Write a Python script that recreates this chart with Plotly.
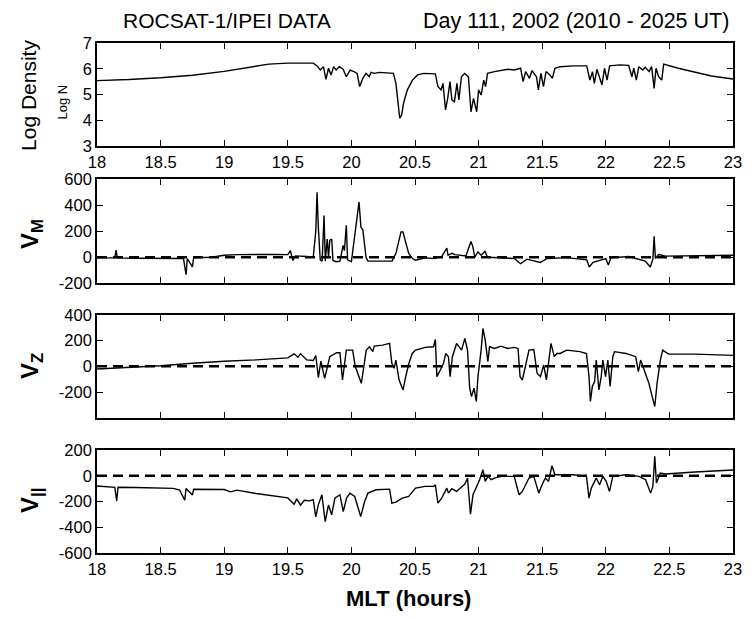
import plotly.graph_objects as go

# ---------------- data ----------------
mlt_n = [18.0, 18.25, 18.5, 18.75, 19.0, 19.2, 19.35, 19.5, 19.7,
         19.73, 19.755, 19.78, 19.80, 19.82, 19.84, 19.86, 19.88, 19.905, 19.935, 19.96, 19.99,
         20.02, 20.045, 20.065, 20.09, 20.115, 20.14, 20.155, 20.18, 20.22, 20.27, 20.33, 20.35,
         20.37, 20.38, 20.395, 20.41, 20.44, 20.48, 20.52, 20.57, 20.66, 20.68, 20.705, 20.72,
         20.74, 20.757, 20.775, 20.79, 20.81, 20.83, 20.845, 20.865, 20.89, 20.92, 20.94, 20.96,
         20.985, 21.0, 21.02, 21.04, 21.055, 21.07, 21.125, 21.175, 21.23, 21.28, 21.33, 21.35,
         21.37, 21.40, 21.42, 21.455, 21.47, 21.49, 21.51, 21.53, 21.56, 21.58, 21.60, 21.64,
         21.745, 21.85, 21.875, 21.895, 21.91, 21.93, 21.95, 21.97, 21.99, 22.01, 22.03, 22.11,
         22.18, 22.205, 22.22, 22.24, 22.26, 22.29, 22.31, 22.34, 22.36, 22.38, 22.395, 22.415,
         22.44, 22.455, 22.57, 22.70, 22.83, 23.0]
log_n = [5.54, 5.58, 5.65, 5.75, 5.90, 6.07, 6.18, 6.22, 6.22,
         6.11, 5.95, 6.08, 5.59, 6.02, 5.76, 6.08, 5.95, 6.08, 5.98, 5.69, 5.95,
         5.89, 5.82, 5.31, 5.63, 5.82, 5.69, 5.86, 5.82, 5.86, 5.85, 5.82, 5.43,
         4.53, 4.08, 4.20, 4.66, 5.18, 5.56, 5.76, 5.82, 5.80, 5.31, 5.18, 5.43,
         4.40, 4.85, 5.50, 4.79, 4.72, 5.43, 4.79, 5.69, 5.82, 5.69, 4.33, 4.85,
         4.33, 5.18, 4.98, 5.56, 5.31, 5.82, 5.89, 5.93, 5.98, 5.95, 6.02, 5.50,
         5.89, 5.63, 5.93, 5.69, 5.18, 5.82, 5.31, 5.89, 5.76, 5.63, 6.02, 6.08,
         6.11, 6.11, 5.56, 5.89, 5.43, 5.98, 5.69, 5.37, 6.02, 5.56, 6.11, 6.15,
         6.13, 5.69, 6.02, 5.56, 6.08, 5.95, 6.06, 5.89, 6.08, 5.24, 6.02, 5.69,
         5.56, 6.18, 6.02, 5.86, 5.72, 5.60]

mlt_m = [18.0, 18.1, 18.14, 18.15, 18.16, 18.3, 18.5, 18.68, 18.70, 18.71, 18.75, 18.76,
         18.9, 19.0, 19.1, 19.2, 19.3, 19.4, 19.5, 19.52, 19.54, 19.56, 19.65, 19.70,
         19.72, 19.73, 19.74, 19.755, 19.77, 19.785, 19.795, 19.81, 19.82, 19.83, 19.845,
         19.855, 19.88, 19.91, 19.935, 19.945, 19.96, 19.97, 20.0, 20.04, 20.06, 20.075,
         20.09, 20.115, 20.13, 20.2, 20.32, 20.35, 20.37, 20.39, 20.405, 20.43, 20.45,
         20.48, 20.505, 20.58, 20.65, 20.71, 20.75, 20.76, 20.79, 20.815, 20.9, 20.94,
         20.955, 20.97, 20.995, 21.02, 21.05, 21.07, 21.2, 21.28, 21.33, 21.38, 21.485,
         21.54, 21.69, 21.85, 21.87, 21.90, 22.0, 22.02, 22.04, 22.18, 22.31, 22.35,
         22.37, 22.38, 22.39, 22.415, 22.47, 23.0]
v_m = [-5, -3, -5, 55, -5, -8, -10, -10, -135, -10, -75, -5,
       0, 15, 20, 22, 25, 22, 20, 50, -25, 10, 5, 0,
       200, 500, 230, -20, -30, 320, -30, 140, 0, 130, 140,
       -25, -35, -30, 90, 50, 245, -20, -35, 300, 425, 230,
       210, 0, -30, -30, -30, 30, 120, 195, 195, 90, 30,
       -10, -23, -5, -10, 5, 70, 15, 30, 20, 10, 120,
       80, 0, 40, 15, 45, 0, -5, -10, -50, -15, -40,
       -10, -3, -20, -75, -40, -10, -60, -5, 5, -30, -75,
       -15, 160, -10, 20, 8, 15]

mlt_z = [18.0, 18.3, 18.5, 18.75, 19.0, 19.25, 19.5, 19.55, 19.58, 19.60, 19.65, 19.7,
         19.72, 19.74, 19.76, 19.79, 19.83, 19.884, 19.91, 19.93, 19.96, 20.01, 20.03,
         20.078, 20.117, 20.143, 20.168, 20.18, 20.246, 20.30, 20.318, 20.336, 20.35,
         20.375, 20.406, 20.427, 20.452, 20.478, 20.504, 20.58, 20.646, 20.66, 20.672,
         20.698, 20.724, 20.742, 20.763, 20.776, 20.794, 20.827, 20.866, 20.892, 20.913,
         20.93, 20.944, 20.964, 20.982, 20.995, 21.02, 21.034, 21.052, 21.073, 21.086,
         21.124, 21.176, 21.228, 21.28, 21.31, 21.326, 21.344, 21.37, 21.396, 21.434,
         21.46, 21.486, 21.512, 21.533, 21.55, 21.569, 21.595, 21.615, 21.64, 21.693,
         21.796, 21.848, 21.868, 21.879, 21.894, 21.912, 21.925, 21.946, 21.964, 21.977,
         21.998, 22.016, 22.034, 22.055, 22.068, 22.158, 22.235, 22.256, 22.274, 22.313,
         22.339, 22.365, 22.385, 22.403, 22.429, 22.447, 22.494, 22.70, 23.0]
v_z = [-21, -8, 5, 24, 40, 50, 66, 97, 70, 97, 50, 45,
       84, -87, 40, -93, 75, 106, 106, -106, 126, 126, 0,
       -132, 126, 152, 114, 157, 165, 178, 23, -15, 49,
       -106, -183, -80, 23, 100, 126, 147, 152, 209, -80,
       -30, 23, 100, 75, -80, 75, 178, 126, 217, 126,
       -170, -235, -170, -273, -80, 126, 294, 204, 36, 152,
       139, 157, 139, 147, 139, -80, -106, 0, 126, 131,
       -54, -80, 10, -106, 49, 178, 75, 100, 100, 126,
       114, 100, -80, -273, -157, -118, 49, -183, -80, 49,
       -80, 49, -157, 75, 114, 100, 75, -41, 49, -54,
       -132, -235, -312, -132, 49, 126, 95, 95, 85]

mlt_p = [18.0, 18.1, 18.14, 18.155, 18.165, 18.3, 18.5, 18.6, 18.65, 18.69, 18.70, 18.75,
         18.76, 19.0, 19.05, 19.1, 19.25, 19.5, 19.55, 19.57, 19.6, 19.63, 19.67, 19.70,
         19.72, 19.74, 19.768, 19.794, 19.82, 19.845, 19.87, 19.91, 19.936, 19.962, 19.988,
         20.026, 20.073, 20.104, 20.13, 20.168, 20.194, 20.30, 20.318, 20.35, 20.40, 20.45,
         20.504, 20.58, 20.646, 20.66, 20.68, 20.71, 20.75, 20.763, 20.789, 20.827, 20.853,
         20.892, 20.913, 20.923, 20.936, 20.956, 20.982, 21.008, 21.034, 21.052, 21.073,
         21.099, 21.124, 21.176, 21.28, 21.318, 21.344, 21.37, 21.396, 21.434, 21.473,
         21.499, 21.525, 21.55, 21.577, 21.60, 21.745, 21.848, 21.868, 21.886, 21.925,
         21.951, 21.977, 22.003, 22.029, 22.055, 22.158, 22.261, 22.313, 22.352, 22.37,
         22.385, 22.398, 22.429, 22.468, 22.70, 23.0]
v_par = [-80, -86, -90, -195, -90, -91, -94, -98, -112, -190, -100, -150,
         -105, -107, -125, -112, -138, -172, -221, -180, -229, -190, -195, -185,
         -320, -226, -148, -356, -226, -304, -174, -148, -278, -174, -135,
         -161, -317, -200, -135, -122, -109, -104, -213, -205, -174, -161,
         -96, -83, -83, -70, -213, -174, -96, -135, -101, -122, -96,
         -65, -18, -122, -299, -148, -96, -31, 47, -44, -5,
         -31, -18, -5, -5, -148, -122, -70, -18, -5, -135,
         -70, -18, -44, 78, 8, 8, -5, -174, -96, -18,
         -70, -5, -44, -122, -5, 8, -5, -31, -135, -83,
         151, -57, 21, 13, 29, 44]

x_ticks = [18, 18.5, 19, 19.5, 20, 20.5, 21, 21.5, 22, 22.5, 23]
x_tick_text = ["18", "18.5", "19", "19.5", "20", "20.5", "21", "21.5", "22", "22.5", "23"]
y1_ticks = [3, 4, 5, 6, 7]
y1_text = ["3", "4", "5", "6", "7"]
y2_ticks = [-200, 0, 200, 400, 600]
y2_text = ["-200", "0", "200", "400", "600"]
y3_ticks = [-200, 0, 200, 400]
y3_text = ["-200", "0", "200", "400"]
y4_ticks = [-600, -400, -200, 0, 200]
y4_text = ["-600", "-400", "-200", "0", "200"]

title_left = "ROCSAT-1/IPEI DATA"
title_right = "Day 111, 2002 (2010 - 2025 UT)"

# ---------------- figure ----------------
FONT = "Liberation Sans, Arial, sans-serif"
fig = go.Figure()

line = dict(color="black", width=1.4)
dash_line = dict(color="black", width=2.5, dash="10px,6px")

fig.add_trace(go.Scatter(x=mlt_n, y=log_n, mode="lines", line=line, xaxis="x", yaxis="y"))
for xa, ya, xs, ys in [("x2", "y2", mlt_m, v_m), ("x3", "y3", mlt_z, v_z), ("x4", "y4", mlt_p, v_par)]:
    fig.add_trace(go.Scatter(x=[18, 23], y=[0, 0], mode="lines", line=dash_line, xaxis=xa, yaxis=ya))
    fig.add_trace(go.Scatter(x=xs, y=ys, mode="lines", line=line, xaxis=xa, yaxis=ya))

domains = {1: [0.798, 1.0], 2: [0.529, 0.733], 3: [0.265, 0.467], 4: [0.0, 0.202]}
common_x = dict(range=[18, 23], tickvals=x_ticks, ticktext=x_tick_text, ticks="inside",
                ticklen=6, tickwidth=1, tickcolor="black", showline=True, linecolor="black",
                linewidth=1.6, mirror="ticks", showgrid=False, zeroline=False,
                tickfont=dict(family=FONT, size=16.5, color="black"))
common_y = dict(ticks="inside", ticklen=6, tickwidth=1, tickcolor="black", showline=True,
                linecolor="black", linewidth=1.6, mirror="ticks", showgrid=False,
                zeroline=False, tickfont=dict(family=FONT, size=16.5, color="black"))

layout = dict(
    width=754, height=619, paper_bgcolor="white", plot_bgcolor="white",
    margin=dict(l=97, r=12, t=43, b=66), showlegend=False,
    font=dict(family=FONT, color="black"),
)
for i in range(1, 5):
    sx = "" if i == 1 else str(i)
    xa = dict(common_x, domain=[0, 1], anchor="y" + sx)
    if i in (2, 3):
        xa["showticklabels"] = False
    layout["xaxis" + sx] = xa
layout["yaxis"] = dict(common_y, domain=domains[1], anchor="x", range=[3, 7], tickvals=y1_ticks,
                       ticktext=y1_text)
layout["yaxis2"] = dict(common_y, domain=domains[2], anchor="x2", range=[-200, 600], tickvals=y2_ticks,
                        ticktext=y2_text)
layout["yaxis3"] = dict(common_y, domain=domains[3], anchor="x3", range=[-400, 400], tickvals=y3_ticks,
                        ticktext=y3_text)
layout["yaxis4"] = dict(common_y, domain=domains[4], anchor="x4", range=[-600, 200], tickvals=y4_ticks,
                        ticktext=y4_text)
fig.update_layout(**layout)

ann = []
ann.append(dict(text=title_left, x=229, y=21, font=dict(size=21)))
ann.append(dict(text=title_right, x=583, y=21, font=dict(size=21.5)))
ann.append(dict(text="Log Density", x=28, y=95, textangle=-90, font=dict(size=21)))
ann.append(dict(text="Log N", x=62, y=102, textangle=-90, font=dict(size=13)))
ann.append(dict(text="<b>V<sub>M</sub></b>", x=30, y=234, textangle=-90, font=dict(size=24)))
ann.append(dict(text="<b>V<sub>Z</sub></b>", x=30, y=366, textangle=-90, font=dict(size=24)))
ann.append(dict(text="<b>V<sub>||</sub></b>", x=30, y=500, textangle=-90, font=dict(size=24)))
ann.append(dict(text="<b>MLT (hours)</b>", x=413, y=598, font=dict(size=22)))
W, H = 754, 619
for a in ann:
    a.update(xref="paper", yref="paper", showarrow=False, xanchor="center", yanchor="middle")
    # convert pixel positions to paper coordinates of the plot area
    a["x"] = (a["x"] - 97) / (W - 97 - 12)
    a["y"] = (H - 66 - a["y"]) / (H - 43 - 66)
fig.update_layout(annotations=ann)

fig.write_html("out.html")
